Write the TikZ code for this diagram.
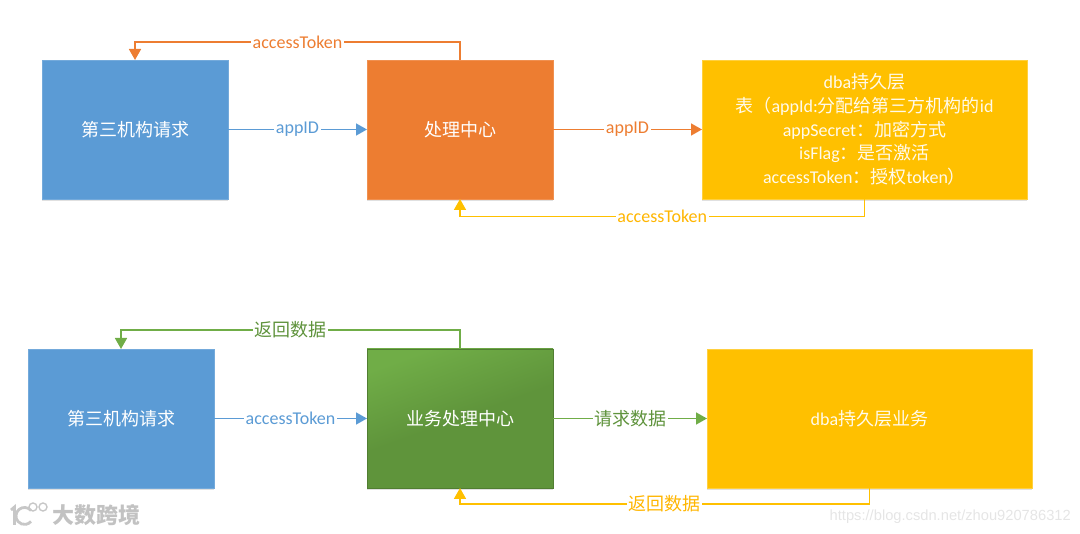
\documentclass[tikz,border=0pt]{standalone}
\usepackage{fontspec}
\setmainfont{Carlito}
\newfontfamily\cjk{Noto Sans CJK SC}
\newfontfamily\urlfont{Liberation Sans}
\newcommand\zh[1]{{\cjk #1}}
\usetikzlibrary{arrows.meta,shadows}
\definecolor{cblue}{HTML}{5B9BD5}
\definecolor{corange}{HTML}{ED7D31}
\definecolor{cyellow}{HTML}{FFC000}
\definecolor{cgreen}{HTML}{70AD47}
\definecolor{dgreen}{HTML}{5F943B}
\tikzset{
  procbox/.style={minimum width=186pt,minimum height=139pt,inner sep=0pt,outer sep=0pt,align=center,text=white,
    font=\fontsize{18}{23.6}\selectfont,drop shadow={shadow xshift=0pt,shadow yshift=-2.5pt,opacity=0.2,fill=black!60}},
  widebox/.style={procbox,minimum width=325pt},
  conn/.style={line width=1.7pt,-{Triangle[length=11pt,width=12pt]}},
  lbl/.style={fill=white,inner sep=1.5pt,font=\fontsize{18}{20}\selectfont},
  wmline/.style={black!22},
}
\begin{document}
\begin{tikzpicture}[x=1pt,y=-1pt]
\useasboundingbox (0,0) rectangle (1080,534);
% top row
\node[procbox,fill=cblue,draw=cblue!85!white,line width=.6pt] (a) at (135,129.5) {\zh{第三机构请求}};
\node[procbox,fill=corange,draw=corange!85!white,line width=.6pt] (b) at (460,129.5) {\zh{处理中心}};
\node[widebox,fill=cyellow,draw=cyellow!75!white,line width=.6pt,text=white!92!cyellow] (c) at (864.5,129.5) {dba\zh{持久层}\\\zh{表（}appId:\zh{分配给第三方机构的}id\\appSecret\zh{：加密方式}\\isFlag\zh{：是否激活}\\accessToken\zh{：授权}token\zh{）}};
% bottom row
\node[procbox,fill=cblue,draw=cblue!85!white,line width=.6pt] (d) at (121,418.5) {\zh{第三机构请求}};
\node[procbox,top color=cgreen,bottom color=dgreen,middle color=dgreen,shading angle=20,draw=dgreen!85!black,line width=.6pt] (e) at (460,418.5) {\zh{业务处理中心}};
\node[widebox,fill=cyellow,draw=cyellow!75!white,line width=.6pt,text=white!92!cyellow] (f) at (869.5,418.5) {dba\zh{持久层业务}};
% connectors, top
\draw[conn,cblue] (a.east) -- node[lbl,text=cblue] (l1) {appID} (b.west);
\draw[conn,corange] (b.east) -- node[lbl,text=corange] (l2) {appID} (c.west);
\draw[conn,corange] (b.north) -- ++(0,-18) -- node[lbl,text=corange] (l3) {accessToken} ++(-325,0) -- (a.north);
\draw[conn,cyellow] (c.south) -- ++(0,17.5) -- node[lbl,text=cyellow!85!orange] (l4) {accessToken} ++(-404.5,0) -- (b.south);
% connectors, bottom
\draw[conn,cblue] (d.east) -- node[lbl,text=cblue] (l5) {accessToken} (e.west);
\draw[conn,cgreen] (e.east) -- node[lbl,text=cgreen!85!black] (l6) {\zh{请求数据}} (f.west);
\draw[conn,cgreen] (e.north) -- ++(0,-19) -- node[lbl,text=cgreen!85!black] (l7) {\zh{返回数据}} ++(-339,0) -- (d.north);
\draw[conn,cyellow] (f.south) -- ++(0,16) -- node[lbl,text=cyellow!85!orange] (l8) {\zh{返回数据}} ++(-409.5,0) -- (e.south);
% watermarks
\draw[wmline,line width=2.8pt] (11,510) -- (14.5,507) -- (14.5,525);
\draw[wmline,line width=2.8pt] (31,510.5) arc[start angle=-40,end angle=-320,radius=8.5];
\draw[wmline,line width=1.4pt] (33,507) circle[radius=4];
\draw[wmline,line width=1.4pt] (43,507) circle[radius=4];
\node[anchor=west,inner sep=0pt,text=black!24,font=\cjk\bfseries\fontsize{22}{24}\selectfont] (wm) at (52,515) {大数跨境};
\node[anchor=east,inner sep=0pt,text=black!10,font=\urlfont\fontsize{14.7}{16}\selectfont] (url) at (1071,517) {https://blog.csdn.net/zhou920786312};
\end{tikzpicture}
\end{document}
